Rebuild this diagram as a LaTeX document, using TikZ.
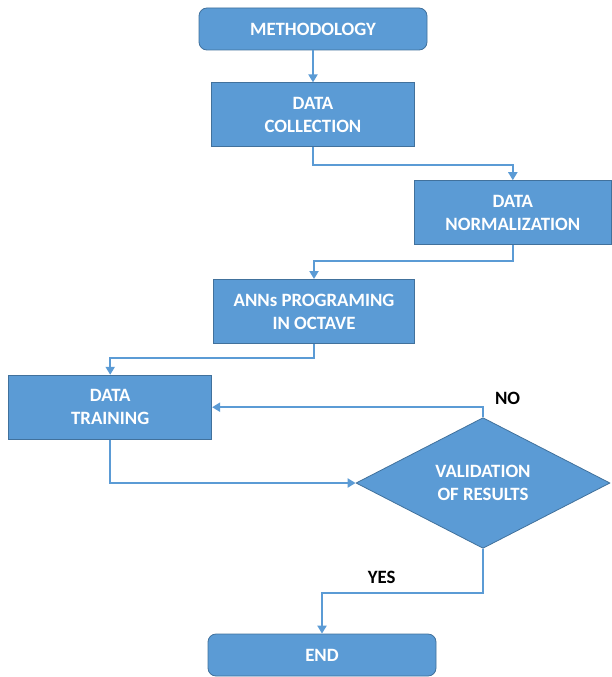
\documentclass[tikz,border=0pt]{standalone}
\usepackage{fontspec}
\setmainfont{Carlito}
\usetikzlibrary{arrows.meta,positioning,shapes.geometric}
\definecolor{boxblue}{HTML}{5B9BD5}
\definecolor{edgeblue}{HTML}{41719C}

\begin{document}
\begin{tikzpicture}[
  x=1pt, y=-1pt,
  node distance=32pt,
  every node/.style={align=center, font=\fontsize{18.8}{23}\selectfont\bfseries},
  box/.style={draw=edgeblue, fill=boxblue, text=white, line width=0.8pt, inner sep=0pt},
  stepbox/.style={box, minimum width=203pt, minimum height=64pt},
  endbox/.style={box, rounded corners=8pt, minimum width=228pt, minimum height=42pt},
  decide/.style={box, diamond, minimum width=254pt, minimum height=126pt},
  arr/.style={-{Triangle[length=8pt, width=9pt]}, draw=boxblue, line width=2pt},
  lbl/.style={text=black, inner sep=2pt}
]
\useasboundingbox (0,0) rectangle (611,677);

\node[endbox] (meth) at (313,29) {METHODOLOGY};
\node[stepbox] (coll) [below=32pt of meth] {DATA\\ COLLECTION};
\node[stepbox, minimum width=197pt] (norm) [below right=33pt and -1pt of coll] {DATA\\ NORMALIZATION};
\node[stepbox, minimum width=201pt] (anns) [below left=34pt and -1pt of norm] {ANNs PROGRAMING\\ IN OCTAVE};
\node[stepbox] (train) [below left=31pt and 1pt of anns] {DATA\\ TRAINING};
\node[decide] (val) at (483,483) {VALIDATION\\ OF RESULTS};
\node[endbox] (end) at (322,655) {END};

\draw[arr] (meth) -- (coll);
\draw[arr] (coll.south) -- ++(0,18) -| (norm.north);
\draw[arr] (norm.south) -- ++(0,16) -| (anns.north);
\draw[arr] (anns.south) -- ++(0,14) -| (train.north);
\draw[arr] (train.south) |- (val.west);
\draw[arr] (val.north) |- (train.east) node[lbl, pos=0.5, anchor=south west, xshift=9pt] {NO};
\draw[arr] (val.south) -- ++(0,44) -| (end.north) node[lbl, pos=0.315, anchor=south, yshift=6pt] {YES};
\end{tikzpicture}
\end{document}
